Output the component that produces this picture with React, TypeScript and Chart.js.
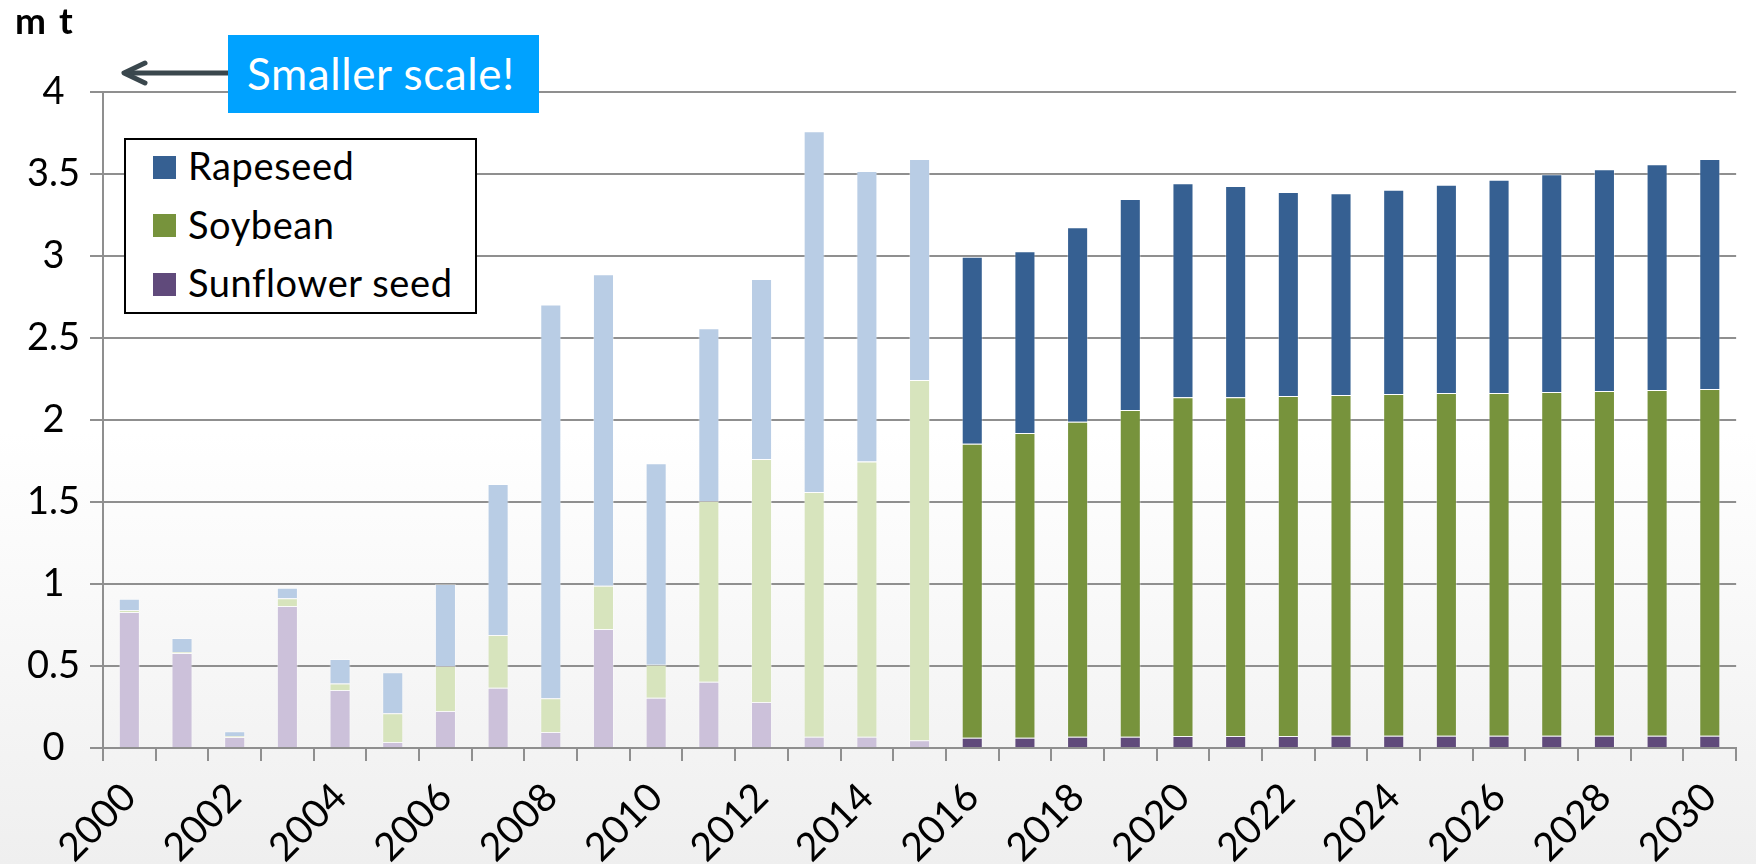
import React, { useEffect, useRef } from 'react';
import { Chart, registerables } from 'chart.js';

Chart.register(...registerables);

// ---------- data ----------
const years = [
  '2000', '2001', '2002', '2003', '2004', '2005', '2006', '2007', '2008', '2009',
  '2010', '2011', '2012', '2013', '2014', '2015', '2016', '2017', '2018', '2019',
  '2020', '2021', '2022', '2023', '2024', '2025', '2026', '2027', '2028', '2029', '2030',
];
const firstProjectionYear = 2016;

const sunflowerSeed = [
  0.83, 0.58, 0.067, 0.866, 0.354, 0.037, 0.226, 0.368, 0.098, 0.726, 0.307, 0.404, 0.28, 0.069, 0.068, 0.047,
  0.063, 0.063, 0.069, 0.069, 0.073, 0.073, 0.073, 0.075, 0.075, 0.075, 0.075, 0.075, 0.075, 0.075, 0.075,
];
const soybean = [
  0.01, 0.005, 0.006, 0.047, 0.04, 0.175, 0.274, 0.321, 0.205, 0.264, 0.201, 1.102, 1.482, 1.492, 1.679, 2.197,
  1.792, 1.858, 1.921, 1.992, 2.065, 2.065, 2.073, 2.077, 2.083, 2.09, 2.09, 2.096, 2.102, 2.108, 2.114,
];
const rapeseed = [
  0.07, 0.085, 0.029, 0.064, 0.149, 0.25, 0.5, 0.921, 2.402, 1.898, 1.228, 1.053, 1.098, 2.199, 1.771, 1.347,
  1.141, 1.108, 1.185, 1.287, 1.305, 1.289, 1.244, 1.23, 1.246, 1.27, 1.3, 1.327, 1.352, 1.376, 1.402,
];

// stack order: bottom -> top
const seriesNames = ['Sunflower seed', 'Soybean', 'Rapeseed'];
const seriesValues = [sunflowerSeed, soybean, rapeseed];
const darkColors = ['#604A7B', '#77933C', '#366092'];
const lightColors = ['#CCC1DA', '#D7E4BD', '#B9CDE5'];

const yMin = 0;
const yMax = 4;
const yStep = 0.5;
const unitLabel = 'm t';
const calloutText = 'Smaller scale!';

const FONT = 'Lato, "Open Sans", "DejaVu Sans", sans-serif';
const GRID = '#8f8f8f';

export default function App() {
  const canvasRef = useRef<HTMLCanvasElement | null>(null);

  useEffect(() => {
    const canvas = canvasRef.current;
    if (!canvas) return;
    const chart = new Chart(canvas, {
      type: 'bar',
      data: {
        labels: years,
        datasets: seriesNames.map((name, s) => ({
          label: name,
          data: seriesValues[s],
          backgroundColor: years.map((y) => (Number(y) >= firstProjectionYear ? darkColors[s] : lightColors[s])),
          borderColor: 'rgba(255,255,255,0.35)',
          borderWidth: 1,
          stack: 'total',
          barPercentage: 0.4,
          categoryPercentage: 1,
        })),
      },
      options: {
        animation: false,
        responsive: true,
        maintainAspectRatio: false,
        layout: { padding: { top: 92, left: 0, right: 7, bottom: 0 } },
        plugins: {
          legend: { display: false },
          tooltip: { enabled: false },
        },
        scales: {
          x: {
            stacked: true,
            offset: true,
            grid: {
              offset: true,
              drawOnChartArea: false,
              drawTicks: true,
              tickLength: 13,
              color: GRID,
              lineWidth: 2,
            },
            border: { display: true, color: GRID, width: 2 },
            ticks: {
              autoSkip: false,
              minRotation: 45,
              maxRotation: 45,
              padding: 13,
              color: '#000',
              font: { family: FONT, size: 39 },
              callback: (_v: any, i: number) => (i % 2 === 0 ? years[i] : ''),
            },
            afterFit: (scale: any) => {
              scale.height = 116;
            },
          },
          y: {
            stacked: true,
            min: yMin,
            max: yMax,
            ticks: {
              stepSize: yStep,
              padding: 10,
              crossAlign: 'center',
              color: '#000',
              font: { family: FONT, size: 38 },
              callback: (v: any) => String(Number(v)),
            },
            grid: { color: GRID, lineWidth: 2, tickLength: 13 },
            border: { display: true, color: GRID, width: 2 },
            afterFit: (scale: any) => {
              scale.width = 103;
            },
          },
        },
      },
    });
    return () => chart.destroy();
  }, []);

  const legendRows = seriesNames
    .map((name, s) => ({ name, color: darkColors[s] }))
    .reverse();

  return (
    <div
      style={{
        position: 'absolute',
        left: 0,
        top: 0,
        width: 1756,
        height: 864,
        overflow: 'hidden',
        background: 'linear-gradient(to bottom, #ffffff 0%, #ffffff 50%, #efefef 100%)',
        fontFamily: FONT,
      }}
    >
      <canvas ref={canvasRef} style={{ position: 'absolute', left: 0, top: 0 }} />

      {/* unit label */}
      <div
        style={{
          position: 'absolute',
          left: 15,
          top: 1,
          fontSize: 37,
          fontWeight: 700,
          lineHeight: 1,
          letterSpacing: 2,
          color: '#000',
          whiteSpace: 'pre',
        }}
      >
        {unitLabel}
      </div>

      {/* callout arrow */}
      <svg
        width={130}
        height={40}
        style={{ position: 'absolute', left: 115, top: 53 }}
      >
        <line x1={10} y1={20} x2={120} y2={20} stroke="#3A474D" strokeWidth={5} />
        <polyline
          points="30,10 9,20 30,30"
          fill="none"
          stroke="#3A474D"
          strokeWidth={5}
          strokeLinejoin="round"
          strokeLinecap="round"
        />
      </svg>

      {/* callout box */}
      <div
        style={{
          position: 'absolute',
          left: 228,
          top: 35,
          width: 311,
          height: 78,
          background: '#00A2FF',
        }}
      >
        <div
          style={{
            position: 'absolute',
            left: 19,
            top: 16,
            fontSize: 44,
            lineHeight: 1,
            letterSpacing: 0.6,
            color: '#fff',
            whiteSpace: 'pre',
          }}
        >
          {calloutText}
        </div>
      </div>

      {/* legend */}
      <div
        style={{
          position: 'absolute',
          left: 124,
          top: 138,
          width: 349,
          height: 172,
          border: '2px solid #000',
          background: '#fff',
        }}
      />
      {legendRows.map((row, i) => {
        const cy = 167 + i * 58.5;
        return (
          <React.Fragment key={row.name}>
            <div
              style={{
                position: 'absolute',
                left: 153,
                top: cy - 11.5,
                width: 23,
                height: 23,
                background: row.color,
              }}
            />
            <div
              style={{
                position: 'absolute',
                left: 188,
                top: cy + 13 - 34,
                fontSize: 38,
                lineHeight: 1,
                letterSpacing: 0.6,
                color: '#000',
                whiteSpace: 'pre',
              }}
            >
              {row.name}
            </div>
          </React.Fragment>
        );
      })}
    </div>
  );
}
